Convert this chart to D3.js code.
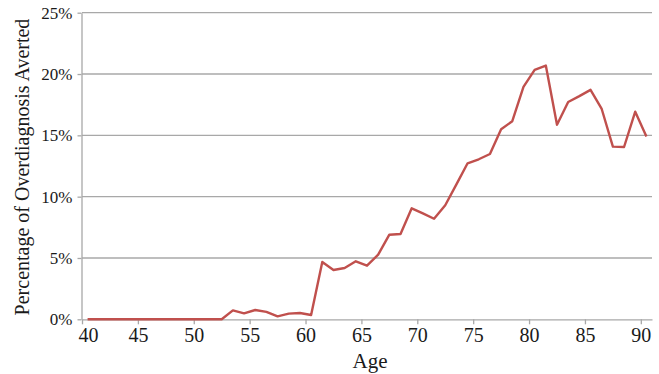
<!DOCTYPE html>
<html>
<head>
<meta charset="utf-8">
<script src="https://cdn.jsdelivr.net/npm/d3@7"></script>
<style>
  body { margin: 0; background: #fff; }
  svg text { font-family: "Liberation Serif", "Times New Roman", Times, "DejaVu Serif", serif; }
</style>
</head>
<body>
<svg id="chart"></svg>
<script>
// ages 40..90, values in percent
const ages = d3.range(40, 91);
const averted = [
    0, 0, 0, 0, 0, 0, 0, 0, 0, 0,
    0, 0, 0, 0.73, 0.49, 0.76, 0.6, 0.24, 0.46, 0.51,
    0.35, 4.67, 4.02, 4.18, 4.73, 4.37, 5.27, 6.9, 6.96, 9.05,
    8.64, 8.2, 9.3, 11.0, 12.72, 13.05, 13.48, 15.5, 16.15, 18.95,
    20.34, 20.69, 15.87, 17.72, 18.2, 18.71, 17.15, 14.08, 14.05, 16.93,
    14.9
];
const xTicks = [40, 45, 50, 55, 60, 65, 70, 75, 80, 85, 90];
const yTicks = [0, 5, 10, 15, 20, 25];

const serif = '"Liberation Serif", "Times New Roman", Times, "DejaVu Serif", serif';
const width = 659, height = 374;
const margin = { top: 12.7, right: 7, bottom: 54.7, left: 82 };

const svg = d3.select('#chart')
    .attr('width', width)
    .attr('height', height)
    .attr('font-family', serif);

const innerW = width - margin.left - margin.right;
const innerH = height - margin.top - margin.bottom;

const chart = svg.append('g')
    .attr('transform', `translate(${margin.left}, ${margin.top})`);

// points sit in the middle of each year slot
const xscale = d3.scaleLinear().domain([40, 91]).range([0, innerW]);
const yscale = d3.scaleLinear().domain([0, 25]).range([innerH, 0]);

// gridlines
chart.append('g')
    .selectAll('line')
    .data(yTicks.filter(d => d > 0))
    .join('line')
    .attr('x1', 0)
    .attr('x2', innerW)
    .attr('y1', d => yscale(d))
    .attr('y2', d => yscale(d))
    .attr('stroke', '#a8a8a8')
    .attr('stroke-width', 1.3);

// y axis
const yaxis = d3.axisLeft(yscale)
    .tickValues(yTicks)
    .tickFormat(d => d + '%')
    .tickSize(4)
    .tickPadding(5)
    .tickSizeOuter(0);

const yg = chart.append('g')
    .attr('transform', 'translate(-0.5, 0)')
    .call(yaxis)
    .attr('font-family', serif);
yg.select('.domain').attr('stroke', '#a8a8a8').attr('stroke-width', 1.3);
yg.selectAll('.tick line').attr('stroke', '#a8a8a8').attr('stroke-width', 1.3);
yg.selectAll('.tick text')
    .attr('fill', '#1a1a1a')
    .attr('font-size', 17);

// x axis
const xaxis = d3.axisBottom(xscale)
    .tickValues(xTicks)
    .tickSize(5)
    .tickPadding(4)
    .tickSizeOuter(0);

const xg = chart.append('g')
    .attr('transform', `translate(0, ${innerH})`)
    .call(xaxis)
    .attr('font-family', serif);
xg.select('.domain').attr('stroke', '#a8a8a8').attr('stroke-width', 1.3);
xg.selectAll('.tick line').attr('stroke', '#a8a8a8').attr('stroke-width', 1.3);
xg.selectAll('.tick text')
    .attr('fill', '#1a1a1a')
    .attr('font-size', 20)
    .attr('dx', d => d === 40 ? 6 : 0);

// the line
const line = d3.line()
    .x((d, i) => xscale(ages[i] + 0.5))
    .y(d => yscale(d));

chart.append('path')
    .datum(averted)
    .attr('fill', 'none')
    .attr('stroke', '#c0504d')
    .attr('stroke-width', 2.4)
    .attr('stroke-linejoin', 'round')
    .attr('d', line);

// axis titles
svg.append('text')
    .attr('x', margin.left + innerW / 2 + 3)
    .attr('y', 368)
    .attr('text-anchor', 'middle')
    .attr('fill', '#1a1a1a')
    .attr('font-size', 21)
    .text('Age');

svg.append('text')
    .attr('transform', `translate(29, ${margin.top + innerH / 2 + 1}) rotate(-90)`)
    .attr('text-anchor', 'middle')
    .attr('fill', '#1a1a1a')
    .attr('font-size', 20)
    .text('Percentage of Overdiagnosis Averted');
</script>
</body>
</html>
